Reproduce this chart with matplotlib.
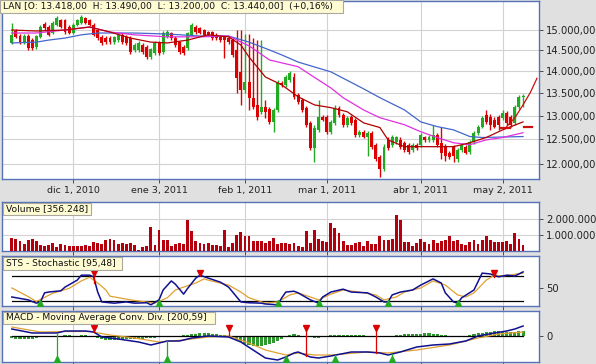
import numpy as np
import pandas as pd
import matplotlib
matplotlib.use('Agg')
import matplotlib.pyplot as plt
from matplotlib.patches import Rectangle
from matplotlib.ticker import FixedLocator, NullLocator

W, H = 596, 364

# trading days (Santiago holidays removed)
dates = pd.bdate_range('2010-11-10', '2011-05-09', freq='C',
                       holidays=['2010-12-08', '2010-12-31', '2011-04-22'])
tick_dates = ['2010-12-01', '2011-01-03', '2011-02-01', '2011-03-01', '2011-04-01', '2011-05-02']
tick_labels = ['dic 1, 2010', 'ene 3, 2011', 'feb 1, 2011', 'mar 1, 2011', 'abr 1, 2011', 'may 2, 2011']

opens = [14680, 14980, 14850, 14700, 14850, 14750, 14580, 14830, 15150, 15080,
         14930, 15130, 15250, 15250, 15080, 14930, 15130, 15180, 15300, 15250,
         15130, 15000, 14830, 14800, 14800, 14700, 14750, 14880, 14830, 14800,
         14510, 14510, 14630, 14580, 14340, 14440, 14700, 14460, 14830, 14930,
         14800, 14700, 14580, 14560, 14880, 15080, 15050, 15000, 14950, 14950,
         14880, 14830, 14830, 14800, 14750, 14510, 13990, 13580, 13760, 13400,
         13240, 13090, 13200, 13150, 12870, 13130, 13740, 13690, 13800, 13870,
         13460, 13350, 13180, 12850, 12330, 12700, 12980, 12980, 12660, 12850,
         13180, 13020, 12810, 12980, 12920, 12600, 12660, 12560, 12640, 12390,
         12130, 11890, 12490, 12390, 12450, 12490, 12430, 12390, 12290, 12390,
         12390, 12540, 12490, 12490, 12600, 12430, 12350, 12230, 12350, 12090,
         12290, 12350, 12250, 12450, 12640, 12770, 13020, 12980, 12920, 12980,
         12960, 13070, 12980, 12850, 13200, 13418]
closes = [14880, 14830, 14700, 14850, 14560, 14560, 14850, 15080, 15050, 14880,
          15180, 15300, 15080, 14950, 14930, 15130, 15250, 15330, 15180, 15130,
          14880, 14800, 14680, 14700, 14700, 14830, 14880, 14700, 14680, 14460,
          14630, 14680, 14460, 14340, 14530, 14680, 14440, 14930, 14950, 14800,
          14630, 14460, 14440, 14930, 15130, 14950, 14930, 14880, 14880, 14800,
          14800, 14750, 14750, 14700, 14390, 13850, 13580, 13760, 13400, 13200,
          12980, 13200, 13090, 12870, 13130, 13740, 13690, 13870, 13970, 13420,
          13310, 13130, 12810, 12330, 12750, 12980, 12920, 12660, 12870, 13180,
          13020, 12810, 12960, 12850, 12600, 12660, 12560, 12640, 12350, 12090,
          11890, 12350, 12330, 12540, 12540, 12350, 12290, 12250, 12390, 12330,
          12600, 12490, 12560, 12600, 12390, 12230, 12150, 12130, 12150, 12290,
          12390, 12230, 12450, 12640, 12770, 12960, 12870, 12810, 12770, 12810,
          13070, 12850, 12810, 13200, 13420, 13440]
highs = [15180, 15030, 14900, 14900, 14900, 14800, 14880, 15130, 15200, 15130,
         15230, 15350, 15280, 15280, 15130, 15180, 15280, 15380, 15330, 15280,
         15180, 15030, 14880, 14850, 14850, 14860, 14920, 14920, 14880, 14850,
         14680, 14720, 14680, 14620, 14560, 14720, 14740, 14980, 15000, 14960,
         14850, 14740, 14620, 14960, 15180, 15120, 15080, 15030, 14980, 14980,
         14920, 14870, 14860, 14840, 14800, 15000, 15000, 14900, 14900, 14800,
         14750, 14750, 13350, 13200, 13170, 13800, 13780, 13920, 14020, 13970,
         13500, 13390, 13220, 12900, 12800, 13350, 13020, 13020, 12920, 13240,
         13220, 13060, 13000, 13020, 12960, 12700, 12700, 12680, 12680, 12430,
         12170, 12400, 12540, 12600, 12580, 12540, 12470, 12430, 12430, 12430,
         12640, 12580, 12600, 12810, 12640, 12770, 12400, 12270, 12390, 12330,
         12430, 12390, 12490, 12680, 12810, 13000, 13130, 13030, 12970, 13020,
         13130, 13110, 13020, 13240, 13460, 13490]
lows = [14660, 14790, 14660, 14660, 14520, 14520, 14540, 14790, 15000, 14840,
        14890, 15090, 15040, 14910, 14890, 14890, 15090, 15140, 15140, 15090,
        14840, 14760, 14640, 14660, 14660, 14660, 14710, 14660, 14640, 14420,
        14470, 14470, 14420, 14300, 14300, 14400, 14400, 14420, 14790, 14760,
        14590, 14420, 14400, 14520, 14840, 14910, 14890, 14840, 14840, 14760,
        14760, 14710, 14320, 14660, 14350, 13500, 13240, 13500, 13130, 13150,
        12920, 13050, 12960, 12830, 12660, 13090, 13650, 13650, 13760, 13380,
        13270, 13090, 12770, 12290, 12030, 12660, 12880, 12620, 12620, 12810,
        12980, 12770, 12770, 12810, 12560, 12560, 12520, 12150, 12310, 12050,
        11750, 11850, 12290, 12350, 12410, 12310, 12250, 12210, 12250, 12290,
        12350, 12450, 12450, 12450, 12350, 12090, 12050, 12090, 12030, 12030,
        12250, 12190, 12210, 12410, 12600, 12730, 12830, 12700, 12730, 12700,
        12920, 12810, 12770, 12810, 13160, 13200]

volume_m = [0.81, 0.75, 0.60, 0.44, 0.71, 0.77, 0.60, 0.40, 0.33, 0.40,
            0.50, 0.23, 0.44, 0.40, 0.33, 0.33, 0.29, 0.29, 0.35, 0.33,
            0.54, 0.50, 0.44, 0.71, 0.75, 0.71, 0.44, 0.50, 0.44, 0.50,
            0.40, 0.08, 0.25, 0.29, 1.48, 0.40, 1.33, 0.71, 0.67, 0.29,
            0.46, 0.50, 0.46, 1.96, 1.23, 0.60, 0.50, 0.44, 0.50, 0.40,
            0.35, 0.29, 1.29, 0.23, 0.50, 1.02, 1.17, 0.96, 0.92, 0.60,
            0.60, 0.60, 0.50, 0.60, 0.81, 0.46, 0.50, 0.50, 0.46, 0.50,
            0.30, 0.25, 1.23, 0.50, 1.33, 0.75, 0.60, 0.56, 1.75, 1.44,
            1.13, 0.65, 0.40, 0.35, 0.50, 0.54, 0.29, 0.65, 0.44, 0.44,
            0.92, 0.71, 0.67, 0.75, 2.27, 1.92, 0.54, 0.54, 0.29, 0.50,
            0.77, 0.56, 0.46, 0.71, 0.50, 0.60, 0.71, 0.92, 0.60, 0.67,
            0.46, 0.40, 0.54, 0.71, 0.46, 0.71, 0.92, 0.67, 0.56, 0.56,
            0.56, 0.60, 0.44, 1.13, 0.75, 0.356]

# moving averages read at sample days
ma_red_idx = [0, 6, 13, 19, 24, 29, 34, 38, 43, 48, 53, 56, 58, 62, 66, 70, 74, 78,
              82, 86, 90, 92, 96, 100, 104, 108, 112, 116, 120, 125]
ma_red = [15000, 14975, 15000, 15075, 14950, 14800, 14700, 14680, 14750, 14880,
          14830, 14630, 14340, 13870, 13690, 13420, 13240, 13180, 13090, 12850,
          12750, 12490, 12350, 12350, 12350, 12350, 12430, 12540, 12700, 12870]
ma_mag_idx = [0, 6, 13, 19, 24, 30, 38, 46, 53, 58, 63, 70, 75, 78, 81, 86, 90, 96,
              100, 104, 108, 112, 116, 120, 125]
ma_mag = [14925, 14925, 15000, 15075, 14950, 14880, 14830, 14830, 14850, 14610,
          14270, 14110, 13800, 13620, 13400, 13130, 12960, 12810, 12660, 12540,
          12430, 12390, 12490, 12540, 12640]
ma_blue_idx = [0, 6, 9, 13, 17, 21, 30, 38, 46, 53, 58, 63, 66, 70, 78, 86, 90, 96,
               100, 104, 108, 112, 115, 125]
ma_blue = [14680, 14700, 14750, 14800, 14880, 14925, 14925, 14900, 14850, 14850,
           14700, 14510, 14390, 14220, 13990, 13600, 13400, 13130, 12870, 12770,
           12700, 12560, 12540, 12560]
trend_idx = [121, 123, 125, 126.8, 128.4]
trend = [12770, 12960, 13240, 13520, 13840]
dash_idx = [(119.7, 121.9), (125.2, 127.2)]
dash_val = [12750, 12770]

# stochastic
k_idx = [0, 4, 6, 7, 8, 9, 12, 13, 16, 17, 19, 20, 21, 22, 25, 28, 30, 33, 34, 36,
         37, 39, 40, 42, 43, 45, 46, 48, 51, 53, 55, 56, 58, 61, 62, 65, 66, 67, 69, 70,
         73, 75, 76, 78, 81, 83, 87, 89, 91, 92, 93, 95, 98, 100, 103, 105, 106, 108, 109, 110,
         113, 115, 117, 119, 121, 123, 125]
k_val = [29, 22, 14, 17, 39, 41, 44, 53, 70, 82, 82, 78, 41, 17, 14, 17, 14, 15, 10, 22,
         46, 68, 60, 36, 50, 75, 82, 75, 65, 53, 29, 17, 15, 14, 12, 10, 27, 41, 43, 39,
         22, 14, 29, 41, 48, 41, 39, 29, 17, 17, 34, 41, 46, 58, 73, 63, 39, 17, 14, 27,
         46, 87, 85, 78, 82, 80, 90]
d_idx = [0, 4, 6, 10, 14, 17, 19, 21, 23, 24, 29, 35, 38, 40, 42, 45, 47, 48, 53, 56,
         58, 62, 65, 68, 70, 73, 75, 78, 81, 85, 89, 91, 94, 96, 100, 103, 106, 109, 111, 113,
         116, 118, 120, 125]
d_val = [51, 30, 18, 38, 50, 68, 77, 63, 46, 31, 22, 14, 27, 46, 53, 63, 73, 70, 58, 41,
         27, 14, 17, 34, 39, 29, 22, 36, 46, 41, 34, 22, 29, 41, 51, 68, 58, 34, 29, 39,
         70, 82, 80, 87]
sts_buy = [7, 36, 65, 75, 92, 109]
sts_sell = [20, 46, 118]
sts_sell_k = [63, 82, 78]

# MACD (chart units)
macd_idx = [0, 5, 11, 13, 18, 20, 22, 26, 31, 34, 38, 41, 44, 48, 53, 56, 59, 62, 65, 67,
            69, 70, 73, 75, 78, 83, 87, 90, 92, 95, 99, 103, 107, 111, 114, 118, 121, 123, 125]
macd = [70, 30, 30, 50, 50, 40, -10, -30, -60, -90, -50, -50, -20, 0, -10, -60, -140, -220, -240, -210,
        -170, -160, -210, -220, -200, -160, -160, -170, -190, -160, -110, -90, -80, -50, 0, 30, 50, 70, 100]
sig_idx = [0, 7, 13, 19, 24, 30, 36, 42, 48, 53, 58, 62, 67, 70, 74, 78, 87, 92, 99, 107,
           114, 119, 125]
sig = [90, 40, 45, 45, 10, -20, -60, -40, -10, 0, -70, -140, -190, -170, -190, -190, -160, -170, -140, -90,
       -20, 20, 40]
hist = [-20, -25, -30, -30, -30, -25, -20, -10,
        -5, 5, 5, 0,
        5, 10, 10, 5, 5, 10, 10, 5,
        -10, -20, -30, -40, -40, -40, -35, -35, -30, -30, -30, -25, -25, -20, -20, -15, -10, -5,
        0, 5, 5, 5, 10,
        15, 20, 25, 30, 30, 30, 25, 20, 15, 10, 5,
        -20, -40, -60, -75, -90, -100, -100, -95, -90, -80, -70, -50, -30, -10,
        10, 20, 15, 5,
        -5, -10, -15, -15, -10,
        5, 10, 15, 15, 15, 15, 15, 10, 10, 10, 5, 5,
        -5, -10, -10, -5, 0,
        10, 15, 20, 20, 20, 25, 25, 30, 30, 25, 20, 15, 10, 5,
        0, 5, 5, 5,
        15, 20, 30, 35, 40, 45, 50, 50, 45, 40, 40, 45, 50, 55]
macd_buy = [11, 38, 67, 79, 93]
macd_buy_v = [30, -50, -210, -190, -180]
macd_sell = [20, 53, 72, 89]
macd_sell_v = [40, 0, -200, -170]

BG = '#e0e0e0'
SPINE = '#5673b8'
GRID = '#d2d2d2'
GREEN = '#22aa22'
RED = '#dd0000'

n = len(closes)
x = np.arange(n)
ticks = dates.get_indexer(pd.to_datetime(tick_dates))

fig = plt.figure(figsize=(W / 100, H / 100), dpi=100, facecolor=BG)


def panel(y0, y1):
    ax = fig.add_axes([2 / W, 1 - y1 / H, 537 / W, (y1 - y0) / H])
    ax.set_xlim(-2.4, 128.9)
    for s in ax.spines.values():
        s.set_color(SPINE)
        s.set_linewidth(1)
    ax.yaxis.tick_right()
    ax.tick_params(axis='y', length=3, width=0.6, pad=2, labelsize=7.2, colors='#333333', labelcolor='#222222')
    ax.xaxis.set_major_locator(FixedLocator(ticks))
    ax.tick_params(axis='x', length=3, width=0.6, pad=2, labelsize=6.8, colors='#333333', labelcolor='#222222')
    ax.set_xticklabels([])
    ax.grid(True, color=GRID, lw=0.8)
    ax.set_axisbelow(True)
    return ax


def label(x0, y0, x1, y1, s, size=6.6):
    fig.add_artist(Rectangle((x0 / W, 1 - y1 / H), (x1 - x0) / W, (y1 - y0) / H,
                             transform=fig.transFigure, fc='#fffbd2', ec='#a8a8a0', lw=0.8, zorder=10))
    fig.text((x0 + 3) / W, 1 - (y0 + y1) / 2 / H, s, fontsize=size, va='center', ha='left',
             color='#111111', zorder=11)


# main price panel
ax = panel(1, 179)
ax.set_yscale('log')
ax.set_ylim(11702, 15743)
pt = [12000, 12500, 13000, 13500, 14000, 14500, 15000]
ax.yaxis.set_major_locator(FixedLocator(pt))
ax.yaxis.set_minor_locator(NullLocator())
ax.set_yticklabels([f'{v:,.2f}'.replace(',', 'X').replace('.', ',').replace('X', '.') for v in pt])
ax.set_xticklabels(tick_labels)
o = np.array(opens); c = np.array(closes)
col = np.where(c >= o, GREEN, RED)
ax.vlines(x, lows, highs, colors=col, lw=1, zorder=3)
ax.bar(x, np.maximum(np.abs(c - o), 15), bottom=np.minimum(o, c), width=0.72, color=col, zorder=4)
ax.plot(ma_blue_idx, ma_blue, color='#4466cc', lw=0.9, zorder=5)
ax.plot(ma_mag_idx, ma_mag, color='#e030e0', lw=0.9, zorder=5)
ax.plot(ma_red_idx, ma_red, color='#b00000', lw=0.9, zorder=5)
ax.plot(trend_idx, trend, color='#cc1010', lw=0.9, zorder=5)
for (a, b), v in zip(dash_idx, dash_val):
    ax.plot([a, b], [v, v], color='#cc1010', lw=1.6, zorder=5)

# volume
av = panel(202, 251)
av.set_ylim(0, 3.06)
av.yaxis.set_major_locator(FixedLocator([1, 2]))
av.set_yticklabels(['1.000.000', '2.000.000'])
av.bar(x, volume_m, width=0.7, color='#b3000c', zorder=3)

# stochastic
ast = panel(256, 306)
ast.set_ylim(7.1, 128.6)
ast.yaxis.set_major_locator(FixedLocator([50]))
ast.set_yticklabels(['50'])
ast.grid(False, axis='y')
ast.plot([0, n - 1], [80, 80], color='black', lw=0.9, zorder=2)
ast.plot([0, n - 1], [20, 20], color='black', lw=0.9, zorder=2)
ast.plot(d_idx, d_val, color='#e0a030', lw=0.9, zorder=3)
ast.plot(k_idx, k_val, color='#101090', lw=1.1, zorder=4)
for i, v in zip(sts_sell, sts_sell_k):
    ast.plot([i, i], [v, 88], color=RED, lw=0.9, zorder=5)
ast.plot(sts_sell, [88] * len(sts_sell), 'v', color=RED, ms=5, zorder=6)
ast.plot(sts_buy, [14] * len(sts_buy), '^', color=GREEN, ms=5, zorder=6)

# MACD
am = panel(311, 362)
am.set_ylim(-260, 250)
am.yaxis.set_major_locator(FixedLocator([0]))
am.set_yticklabels(['0'])
am.grid(False, axis='y')
am.bar(x, hist, width=0.75, color='#2e9a2e', zorder=2)
am.plot([0, n - 1], [0, 0], color='black', lw=0.9, zorder=3)
am.plot(sig_idx, sig, color='#e0a030', lw=0.9, zorder=4)
am.plot(macd_idx, macd, color='#101090', lw=1.1, zorder=5)
for i, v in zip(macd_sell, macd_sell_v):
    am.plot([i, i], [v, 80], color=RED, lw=0.9, zorder=6)
for i, v in zip(macd_buy, macd_buy_v):
    am.plot([i, i], [v, -220], color=GREEN, lw=0.9, zorder=6)
am.plot(macd_sell, [80] * len(macd_sell), 'v', color=RED, ms=5, zorder=7)
am.plot(macd_buy, [-225] * len(macd_buy), '^', color=GREEN, ms=5, zorder=7)

label(0, 0, 343, 13, 'LAN [O: 13.418,00  H: 13.490,00  L: 13.200,00  C: 13.440,00]  (+0,16%)')
label(3, 203, 91, 215, 'Volume [356.248]')
label(3, 257, 122, 270, 'STS - Stochastic [95,48]')
label(3, 312, 215, 324, 'MACD - Moving Average Conv. Div. [200,59]')

fig.savefig('out.png', dpi=100, facecolor=BG)
